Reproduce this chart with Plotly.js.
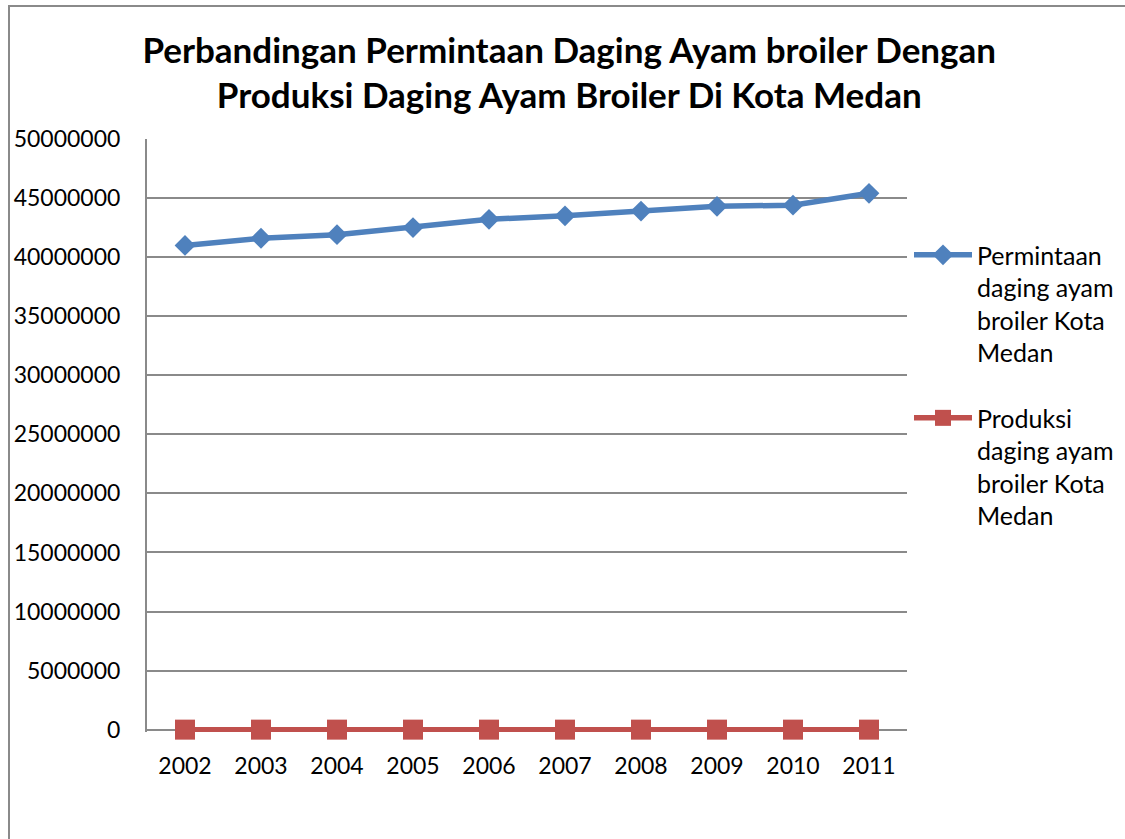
<!DOCTYPE html>
<html>
<head>
<meta charset="utf-8">
<script src="https://cdn.plot.ly/plotly-3.0.1.min.js"></script>
<style>
  html, body { margin: 0; padding: 0; background: #ffffff; }
  #wrap { position: relative; width: 1125px; height: 839px; overflow: hidden; background: #fff; }
  #frame { position: absolute; left: 8px; top: 5px; width: 1300px; height: 1000px; border: 2px solid #8a8a8a; box-sizing: border-box; }
  #chart { position: absolute; left: 0; top: 0; width: 1125px; height: 839px; }
</style>
</head>
<body>
<div id="wrap">
  <div id="frame"></div>
  <div id="chart"></div>
</div>
<script>
const years = ['2002','2003','2004','2005','2006','2007','2008','2009','2010','2011'];
const permintaan = [40990000, 41600000, 41900000, 42500000, 43200000, 43500000, 43900000, 44300000, 44400000, 45400000];
const produksi = [0, 0, 0, 0, 0, 0, 0, 0, 0, 0];
const seriesNames = ['Permintaan<br>daging ayam<br>broiler Kota<br>Medan', 'Produksi<br>daging ayam<br>broiler Kota<br>Medan'];
const yTicks = [0, 5000000, 10000000, 15000000, 20000000, 25000000, 30000000, 35000000, 40000000, 45000000, 50000000];
const titleText = 'Perbandingan Permintaan Daging Ayam broiler Dengan<br>Produksi Daging Ayam Broiler Di Kota Medan';

const FONT = 'Lato, "Open Sans", sans-serif';

const traces = [
  {
    x: years, y: permintaan, name: seriesNames[0], type: 'scatter', mode: 'lines+markers',
    legendgroup: 'a',
    line: { color: '#4F81BD', width: 5.5 },
    marker: { symbol: 'diamond', size: 16, color: '#4F81BD' },
    cliponaxis: false
  },
  {
    x: years, y: produksi, name: seriesNames[1], type: 'scatter', mode: 'lines+markers',
    legendgroup: 'b',
    line: { color: '#C0504D', width: 5.5 },
    marker: { symbol: 'square', size: 20, color: '#C0504D' },
    cliponaxis: false
  }
];

const layout = {
  width: 1125, height: 839,
  paper_bgcolor: 'rgba(0,0,0,0)',
  plot_bgcolor: 'rgba(0,0,0,0)',
  margin: { l: 147, r: 218, t: 139, b: 107, pad: 0, autoexpand: false },
  font: { family: FONT, size: 23, color: '#000000' },
  title: {
    text: titleText,
    font: { family: FONT, size: 35, color: '#000000', weight: 'bold' },
    x: 0.506, xref: 'container', xanchor: 'center',
    y: 0.925, yref: 'container', yanchor: 'top'
  },
  xaxis: {
    type: 'category',
    range: [-0.5, 9.5],
    showgrid: false,
    showline: false,
    ticks: '', ticklabelstandoff: 18,
    tickfont: { family: FONT, size: 23, color: '#000' },
    automargin: false,
    fixedrange: true
  },
  yaxis: {
    range: [-200000, 50000000],
    tickvals: yTicks,
    ticktext: yTicks.map(v => String(v)),
    showgrid: true, gridcolor: '#8a8a8a', gridwidth: 2,
    showline: true, linecolor: '#8a8a8a', linewidth: 2,
    zeroline: true, zerolinecolor: '#8a8a8a', zerolinewidth: 2,
    ticks: '', ticklabelstandoff: 20,
    tickfont: { family: FONT, size: 23, color: '#000' },
    automargin: false,
    fixedrange: true
  },
  showlegend: true,
  legend: {
    x: 0.808, xref: 'container', xanchor: 'left',
    y: 0.843, yanchor: 'top',
    font: { family: FONT, size: 25, color: '#000' },
    valign: 'top',
    tracegroupgap: 30,
    itemwidth: 58,
    bgcolor: 'rgba(0,0,0,0)'
  }
};

Plotly.newPlot('chart', traces, layout, { displayModeBar: false, staticPlot: true });
</script>
</body>
</html>
